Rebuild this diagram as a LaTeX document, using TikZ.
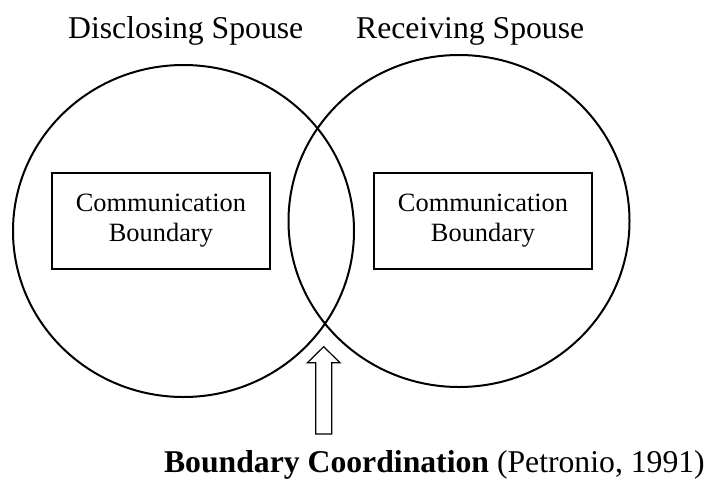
\documentclass[tikz,border=0pt]{standalone}
\usepackage{fontspec}
\setmainfont{Liberation Serif}
\usetikzlibrary{shapes.geometric}
\begin{document}
\begin{tikzpicture}[x=1pt,y=-1pt,
  spouse/.style={draw,ellipse,line width=2pt,inner sep=0pt,minimum width=341pt,minimum height=332pt},
  boundbox/.style={draw,line width=1.2pt,minimum width=218pt,minimum height=96pt,align=center,inner sep=0pt,font=\fontsize{26.4}{30}\selectfont},
  heading/.style={font=\fontsize{31.7}{36}\selectfont,inner sep=0pt},
  hollowarrow/.style={draw,line width=1.2pt,line join=miter,fill=white}]
\useasboundingbox (0,0) rectangle (707,480);

% the two spouses
\node[spouse] (discl) at (183.5,231) {};
\node[spouse] (recv) at (459,221) {};

% headings
\node[heading,anchor=base west] (discllabel) at (68,38) {Disclosing Spouse};
\node[heading,anchor=base west] (recvlabel) at (356,38) {Receiving Spouse};

% communication boundaries
\node[boundbox] (bl) at (160.9,221) {Communication\\Boundary};
\node[boundbox] (br) at (483,221) {Communication\\Boundary};

% coordination label and hollow arrow pointing at the overlap
\node[heading,anchor=base east] (coord) at (705,472) {\textbf{Boundary Coordination} (Petronio, 1991)};
\coordinate (tip) at (323.7,346.7);
\draw[hollowarrow] (tip) -- ++(16.3,16) -- ++(-8.3,0) -- ++(0,71.3) -- ++(-16,0) -- ++(0,-71.3) -- ++(-8.3,0) -- cycle;
\end{tikzpicture}
\end{document}
